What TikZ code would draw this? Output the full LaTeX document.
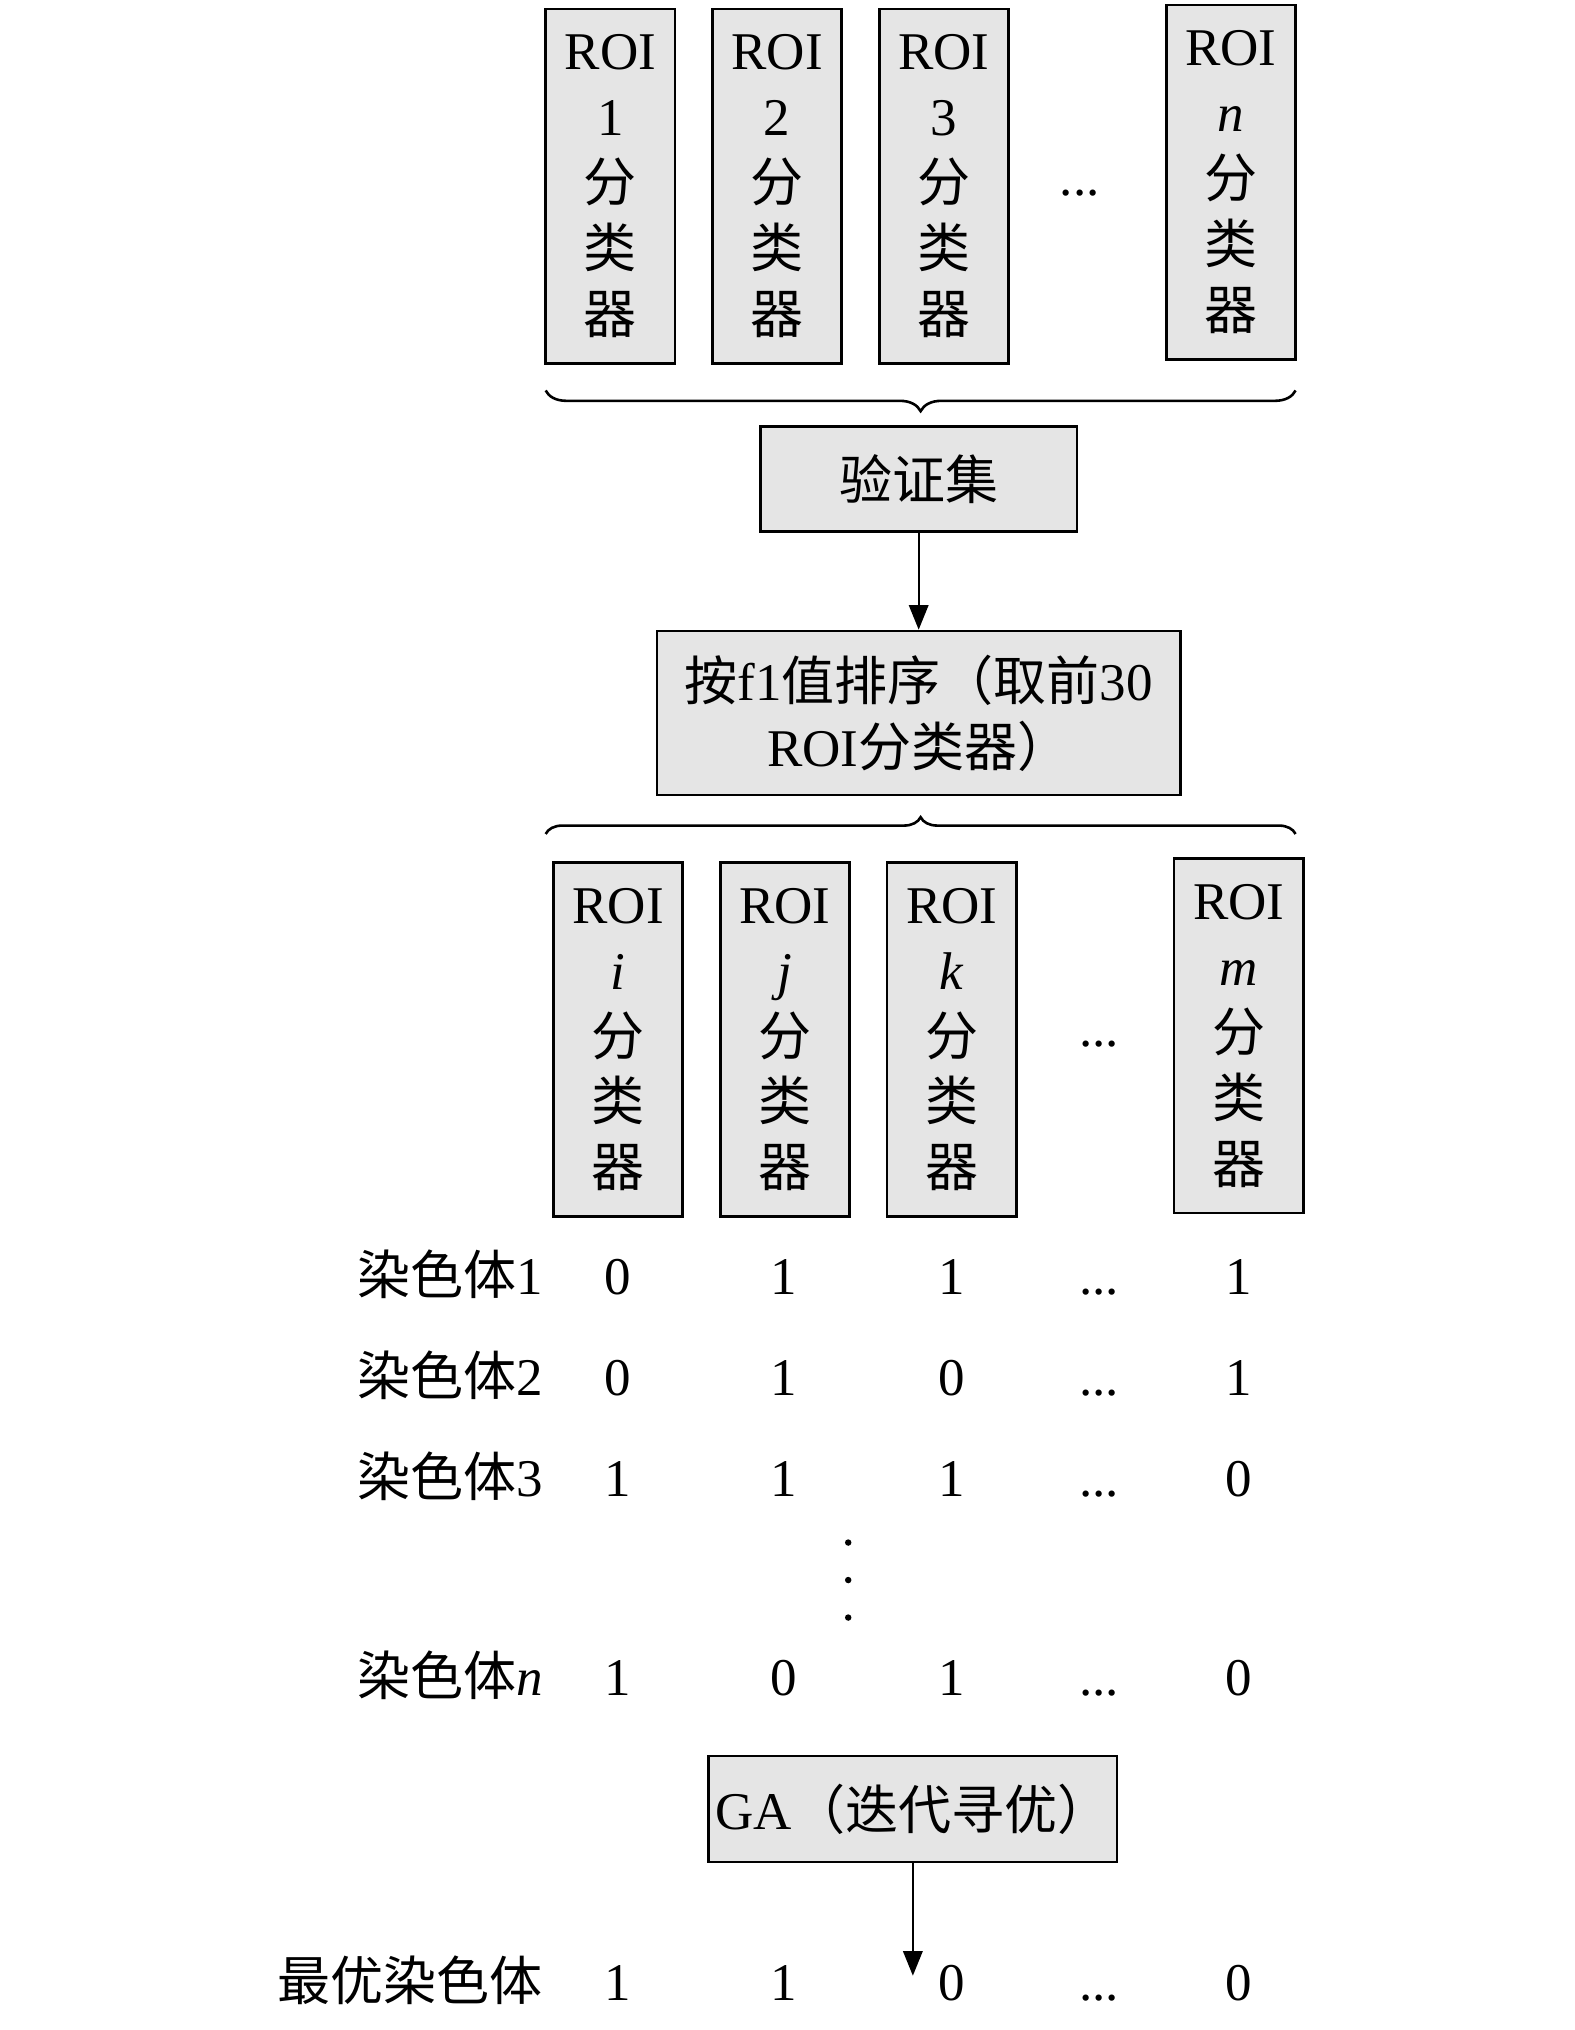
\documentclass[tikz,border=0pt]{standalone}
\usepackage{fontspec}
\setmainfont{Liberation Serif}
\newfontfamily\cjk{Noto Sans CJK SC}
\usetikzlibrary{arrows.meta, positioning, decorations.pathreplacing}
\newcommand{\etcdots}{...}

\begin{document}
\begin{tikzpicture}[x=1pt, y=-1pt,
  font=\fontsize{41}{51}\selectfont,
  clf/.style={draw, line width=2pt, fill=black!10, minimum width=100pt,
    minimum height=274pt, inner sep=0pt, align=center},
  box/.style={draw, line width=2pt, fill=black!10, inner sep=0pt, align=center},
  txt/.style={inner sep=0pt, anchor=base},
  arr/.style={line width=1.6pt, -{Triangle[length=19pt, width=15pt]}}]
\useasboundingbox (0,0) rectangle (1218,1570);

% all ROI classifiers
\foreach \x/\id/\lab in {472/c1/1, 601/c2/2, 730/c3/3}
  \node[clf] (\id) at (\x,144) {ROI\\\lab\\{\cjk 分}\\{\cjk 类}\\{\cjk 器}};
\node[clf] (cn) at (952,141) {ROI\\\textit{n}\\{\cjk 分}\\{\cjk 类}\\{\cjk 器}};
\node[txt] (cdots) at (835,151) {\etcdots};
\draw[line width=2pt, decorate, decoration={brace, mirror, amplitude=16pt}]
  (422,302) -- (1002,302);

% validation and ranking
\node[box, minimum width=245pt, minimum height=81pt] (val) at (710.5,370.5) {\cjk 验证集};
\node[box, minimum width=405pt, minimum height=127pt] (sort) at (710.5,551.5)
  {{\cjk 按}f1{\cjk 值排序（取前}30\\ROI{\cjk 分类器）}};
\draw[arr] (val) -- (sort);
\draw[line width=2pt, decorate, decoration={brace, amplitude=13pt}]
  (422,645) -- (1002,645);

% selected ROI classifiers
\foreach \x/\id/\lab in {478/s1/i, 607/s2/j, 736/s3/k}
  \node[clf] (\id) at (\x,804) {ROI\\\textit{\lab}\\{\cjk 分}\\{\cjk 类}\\{\cjk 器}};
\node[clf] (sm) at (958,801) {ROI\\\textit{m}\\{\cjk 分}\\{\cjk 类}\\{\cjk 器}};
\node[txt] (sdots) at (850,809) {\etcdots};

% chromosomes
\foreach \y/\name/\lab/\a/\b/\c/\d in {1001/r1/1/0/1/1/1, 1079/r2/2/0/1/0/1,
    1157/r3/3/1/1/1/0, 1311/rn/\textit{n}/1/0/1/0} {
  \node[txt, anchor=base east] (\name) at (420,\y) {{\cjk 染色体}\lab};
  \node[txt] (\name-a) at (478,\y) {\a};
  \node[txt] (\name-b) at (606,\y) {\b};
  \node[txt] (\name-c) at (736,\y) {\c};
  \node[txt] (\name-dots) at (850,\y) {\etcdots};
  \node[txt] (\name-d) at (958,\y) {\d};
}
\foreach \y in {1193,1222,1251}
  \fill (656,\y) circle (2.5pt);

% GA search
\node[box, minimum width=316pt, minimum height=82pt] (ga) at (706,1399) {GA{\cjk （迭代寻优）}};
\coordinate (gend) at (706,1528);
\draw[arr] (ga) -- (gend);
\node[txt, anchor=base east] (best) at (420,1547) {\cjk 最优染色体};
\foreach \x/\v in {478/1, 606/1, 736/0, 850/\etcdots, 958/0}
  \node[txt] at (\x,1547) {\v};
\end{tikzpicture}
\end{document}
